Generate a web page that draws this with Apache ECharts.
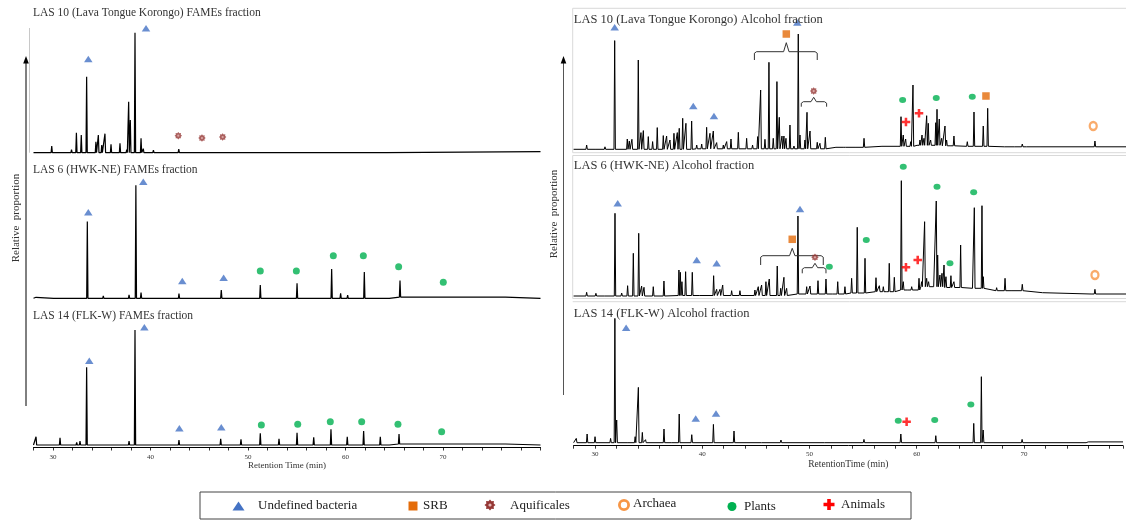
<!DOCTYPE html>
<html><head><meta charset="utf-8">
<script src="https://cdn.jsdelivr.net/npm/echarts@6/dist/echarts.min.js"></script>
<style>html,body{margin:0;padding:0;background:#fff}#c{width:1126px;height:520px}</style>
</head><body><div id="c"></div>
<script>
// ---------------- DATA (retention time in min, relative height) ----------------
// FAMEs fractions (left column)
const famesLAS10 = [[29.87,6.7],[30.8,2],[31.9,3],[32.4,20],[32.9,17.7],[33.45,76],[34.4,11],[34.65,17.7],[35.0,7.7],[35.33,19],[35.95,8.3],[36.87,9.3],[37.56,3],[37.76,51],[37.93,32.7],[38.41,120],[39.03,14.3],[39.26,4],[40.3,2.5],[42.3,2],[42.9,3.5],[44.9,1.5],[46.95,1.5],[47.3,1.5],[49.0,1.5],[51.05,1.5]];
const baseLAS10F = [[28,0],[64.2,0],[64.4,1],[80,1]];
const famesLAS6 = [[28.26,1],[30.13,1.3],[32.5,2],[33.52,76.7],[35.16,2.5],[35.95,1.5],[37.8,3.5],[38.5,113],[39.03,5.7],[42.92,4.7],[47.26,8.3],[49.28,1.5],[51.26,13.3],[53.18,1.5],[55.03,15],[56.74,2],[58.58,29.3],[59.5,5],[60.22,3.3],[61.93,26.3],[63.64,2],[65.59,17.7],[67.74,1],[70.27,1.5]];
const baseLAS6F = [[28,0],[64.5,0],[64.7,1.2],[76.4,1.2],[76.6,0],[80,0]];
const famesLAS14 = [[28.26,8.3],[30.72,7.3],[32.43,2.5],[32.77,4],[33.45,77.7],[35.26,1.5],[35.95,2],[37.8,4],[38.41,115],[40.63,1],[42.92,5],[45.08,2],[47.2,6.3],[49.28,5.7],[51.26,11.7],[53.18,6.3],[55.03,12.3],[56.74,7.7],[58.51,15.7],[60.18,8.3],[61.86,14],[63.57,8.3],[65.49,11],[67.71,1],[70.2,1.5]];
const baseLAS14F = [[28,0],[64.5,0],[64.7,1],[76.4,1],[76.6,0],[80,0]];

// Alcohol fractions (right column)
const alcLAS10 = [[29.21,4.3],[30.14,2],[30.91,2.5],[31.81,108.7],[32.98,10.3],[33.17,8.3],[33.41,10],[34.0,89.3],[34.25,16.7],[34.47,18.7],[34.93,12.7],[35.33,7.7],[35.76,21.7],[36.32,13.7],[36.63,13.3],[36.94,9.3],[37.31,16],[37.62,16.7],[37.8,21],[38.12,31],[38.42,26],[38.95,28.3],[39.42,4.3],[39.88,5.3],[40.34,22],[40.65,16],[40.96,18.3],[41.27,6.7],[41.89,4.3],[42.2,7.7],[42.6,10.3],[43.28,17],[44.05,11],[44.6,4.3],[45.07,12.7],[45.35,59.3],[45.75,10],[46.12,87],[46.52,11],[46.86,67.7],[47.08,32],[47.33,13.3],[47.51,13.3],[47.7,11],[48.07,24.3],[48.44,3.3],[48.84,115.3],[49.0,14.3],[49.46,9.3],[49.65,37],[49.93,18.3],[50.6,7],[50.85,6],[51.35,12],[52.4,1.5],[53.27,4],[54.26,4],[54.94,11],[56.67,5],[58.37,32.6],[58.58,14.3],[58.8,10.3],[59.27,7.6],[59.48,64.3],[59.92,6],[60.13,9.3],[60.32,14.3],[60.5,11],[60.75,33.6],[60.9,26],[61.12,9.3],[61.59,26.6],[61.71,40],[61.92,30.3],[62.14,11],[62.45,23.3],[62.6,9.3],[63.28,13.3],[64.52,7.6],[65.14,37.3],[66.0,23.3],[66.41,41],[68.02,3.6],[68.94,3.3],[69.62,5.3],[71.42,3.3],[76.36,8.3]];
const baseLAS10A = [[28,0],[50,0.5],[53,2],[58,3],[61,4],[63,3.5],[66,3],[70,2.5],[79.24,2.5]];
const alcLAS6 = [[29.21,3.7],[30.07,2.7],[30.91,2],[31.84,82.7],[32.46,3],[33.01,10.3],[33.54,42.7],[34.04,62.7],[34.31,10],[34.53,8.7],[35.39,9.3],[36.38,15],[37.77,26],[37.9,23.7],[38.05,14.3],[38.39,24.3],[39.01,23.7],[39.72,2],[40.99,20.3],[41.27,6.7],[41.58,6.7],[41.83,11],[42.66,5.3],[43.43,5.3],[44.82,6],[45.13,9.3],[45.44,11],[45.84,14.3],[46.15,17],[46.89,30],[47.21,7.7],[47.51,18.7],[47.76,7.7],[48.81,80],[49.62,9.3],[49.93,10],[50.67,15.3],[51.41,17],[52.5,14.3],[53.17,9.3],[53.79,17.7],[54.31,68.7],[55.03,37.7],[56.05,18.3],[56.36,10.3],[56.73,9.3],[57.28,32.7],[57.75,18.7],[58.4,115.3],[58.58,14.3],[59.36,9.3],[60.04,17.7],[60.28,14.3],[60.56,74.3],[60.75,17.7],[60.93,14.3],[61.64,95],[61.77,41],[61.98,21],[62.17,22.7],[62.36,31],[62.54,19.3],[63.0,20.3],[63.28,14.3],[63.9,51],[65.17,88.3],[65.88,90.3],[66.0,19.3],[67.24,8.3],[68.02,17.7],[68.64,6],[69.62,11.7],[76.36,6.7]];
const baseLAS6A = [[28,0],[45,0.5],[52,2],[55,3],[57,4.3],[59,6],[61.4,9.3],[63,8.5],[65,7.7],[68,5.3],[71.5,3.3],[76,2],[79.24,2]];
const alcLAS14 = [[28.25,4.3],[29.26,8.7],[30.0,6],[31.45,4.3],[31.85,124.3],[32.02,22.7],[33.13,2],[33.74,6],[34.04,55.3],[34.41,10.3],[34.71,3],[36.43,13.7],[37.17,2],[37.85,28.7],[39.02,8],[41.04,18.3],[42.96,11.7],[45.59,1.5],[47.34,2.7],[51.48,1],[55.08,3.3],[58.52,8.7],[61.78,7],[65.32,19.3],[66.03,66],[66.2,12.7],[69.83,3.3]];
const baseLAS14A = [[28,0],[75.8,0],[76,0.8],[79.24,0.8]];

// biomarker annotations [retention time, height]
const bacL1 = [[33.62,93.7],[39.54,124.4]];
const aqL1 = [[42.85,17],[45.28,14.7],[47.4,15.7]];
const bacL2 = [[33.62,86],[39.26,116.6],[43.26,17.3],[47.5,20.6]];
const plantL2 = [[51.26,27.3],[54.96,27.3],[58.75,42.6],[61.83,42.6],[65.45,31.6],[70.03,16]];
const bacL3 = [[33.72,84.3],[39.37,117.7],[42.96,16.7],[47.26,17.7]];
const plantL3 = [[51.37,20],[55.1,20.7],[58.44,23.3],[61.66,23.3],[65.38,20.7],[69.86,13.3]];

const bacR1 = [[31.81,122],[39.1,43.3],[41.02,33.3],[48.75,126.7]];
const srbR1 = [[47.73,115.3],[66.25,53.3]];
const aqR1 = [[50.27,58.3]];
const plantR1 = [[58.52,49.3],[61.64,51.3],[64.98,52.6]];
const animalR1 = [[58.83,27.3],[60.04,36]];
const archR1 = [[76.2,23.3]];
// bracket: [start, end, centre, line height, end height, tip height]
const srbBracketR1 = [44.77,50.6,47.73,97.6,89.3,106.6];
const aqBracketR1 = [49.12,51.47,50.27,47.6,42.6,52];

const bacR2 = [[32.09,92.7],[39.42,36],[41.27,32.7],[49.0,87]];
const srbR2 = [[48.28,56.7]];
const aqR2 = [[50.39,38.7]];
const plantR2 = [[51.72,29.3],[55.15,56],[58.58,129.3],[61.71,109.3],[62.91,32.7],[65.11,103.7]];
const animalR2 = [[58.83,28.7],[59.92,36]];
const archR2 = [[76.36,21]];
const srbBracketR2 = [45.35,51.16,48.28,40.3,31,47.7];
const aqBracketR2 = [49.21,51.41,50.39,28.3,22.7,32.7];

const bacR3 = [[32.9,115],[39.39,24.3],[41.28,29.3]];
const plantR3 = [[58.28,22],[61.68,22.7],[65.05,38.3]];
const animalR3 = [[59.06,21]];

const titles = ['LAS 10 (Lava Tongue Korongo) FAMEs fraction','LAS 6 (HWK-NE) FAMEs fraction','LAS 14 (FLK-W) FAMEs fraction',
  'LAS 10 (Lava Tongue Korongo) Alcohol fraction','LAS 6 (HWK-NE) Alcohol fraction','LAS 14 (FLK-W) Alcohol fraction'];
const tickLabels = [30,40,50,60,70];
const legendNames = ['Undefined bacteria','SRB','Aquificales','Archaea','Plants','Animals'];

// ---------------- BUILD ----------------
function nearestLevel(base, t){
  let best = base[0];
  base.forEach(p => { if (Math.abs(p[0]-t) < Math.abs(best[0]-t)) best = p; });
  return best[1];
}
function buildTrace(peaks, base, hw){
  const pts = base.map(p => [p[0], p[1]]);
  peaks.forEach(([t,h]) => { const b = nearestLevel(base,t); pts.push([t-hw,b],[t,h],[t+hw,b]); });
  pts.sort((a,b)=>a[0]-b[0]);
  return pts;
}
function buildBracket(b){
  const [s,e,c,hl,he,ht] = b;
  return [[s,he],[s,hl-1.5],[s+0.2,hl],[c-0.25,hl],[c,ht],[c+0.25,hl],[e-0.2,hl],[e,hl-1.5],[e,he]];
}
function gearPath(n, ro, ri){
  let d='';
  for(let i=0;i<2*n;i++){ const r=i%2?ri:ro; const a=Math.PI*i/n-Math.PI/2;
    d+=(i?'L':'M')+(10+r*10*Math.cos(a)).toFixed(2)+','+(10+r*10*Math.sin(a)).toFixed(2); }
  return 'path://'+d+'Z';
}
function gearPoints(cx,cy,R,n,ri){
  const pts=[]; for(let i=0;i<2*n;i++){ const r=(i%2?ri:1)*R; const a=Math.PI*i/n-Math.PI/2; pts.push([cx+r*Math.cos(a), cy+r*Math.sin(a)]); } return pts;
}

const FONT = 'Liberation Serif';
const C = {bac:'#4472C4', srb:'#E46C0A', aq:'#953735', arch:'#F79646', plant:'#00B050', animal:'#FF0000'};
const GEAR = gearPath(8,1,0.72);
const CROSS = 'path://M7,0H13V7H20V13H13V20H7V13H0V7H7Z';

const grids = [
  {left:33.5, width:507, top:24.7, height:128},
  {left:33.5, width:507, top:170.3, height:128},
  {left:33.5, width:507, top:317, height:130.5},
  {left:573.6, right:0, top:20.3, height:129},
  {left:573.6, right:0, top:166, height:130},
  {left:573.6, right:0, top:313, height:132.7}
];
const yRanges = [[0,128],[0,128],[-2.5,128],[0,129],[0,130],[-3,129.7]];

const xAxes = grids.map((g,i)=>{
  const right = i>=3;
  const bottom = (i===2||i===5);
  return {
    gridIndex:i, type:'value', min:28, max: right?79.24:80, interval:2,
    show: bottom,
    axisLine:{show:true, onZero:false, lineStyle:{color:'#000', width:1}},
    axisTick:{show:true, length:3, inside:false, lineStyle:{color:'#000', width:0.8}},
    axisLabel:{fontSize:7, color:'#333', fontFamily:FONT, margin: right?5:6,
      formatter: v => tickLabels.indexOf(v) >= 0 ? String(v) : ''},
    splitLine:{show:false},
    name: bottom ? (right?'RetentionTime (min)':'Retention Time (min)') : '',
    nameLocation:'middle', nameGap: right?14:13,
    nameTextStyle:{fontSize: right?9.5:9, color:'#333', fontFamily:FONT}
  };
});
const yAxes = grids.map((g,i)=>({gridIndex:i, type:'value', min:yRanges[i][0], max:yRanges[i][1], show:false, splitLine:{show:false}}));

const series = [];
function trace(i, peaks, base, w){ series.push({type:'line', xAxisIndex:i, yAxisIndex:i, data:buildTrace(peaks, base, 0.065), symbol:'none', lineStyle:{color:'#000', width:w, join:'bevel'}, animation:false, clip:false, silent:true, z:2}); }
function marks(i, data, sym, size, style){ series.push({type:'scatter', xAxisIndex:i, yAxisIndex:i, data:data, symbol:sym, symbolSize:size, itemStyle:style, animation:false, clip:false, silent:true, z:5}); }
function bracket(i, b){ series.push({type:'line', xAxisIndex:i, yAxisIndex:i, data:buildBracket(b), symbol:'none', lineStyle:{color:'#333', width:1}, animation:false, clip:false, silent:true, z:3}); }
function aqMarks(i, data, size){ marks(i, data, GEAR, size, {color:C.aq}); marks(i, data, 'circle', size*0.3, {color:'#E6B9B8'}); }
function ringMarks(i, data){ marks(i, data, 'circle', [7,8], {color:'#fff', borderColor:C.arch, borderWidth:2.4}); }

trace(0, famesLAS10, baseLAS10F, 1.2);
trace(1, famesLAS6, baseLAS6F, 1.2);
trace(2, famesLAS14, baseLAS14F, 1.2);
trace(3, alcLAS10, baseLAS10A, 1);
trace(4, alcLAS6, baseLAS6A, 1);
trace(5, alcLAS14, baseLAS14A, 1);

bracket(3, srbBracketR1); bracket(3, aqBracketR1);
bracket(4, srbBracketR2); bracket(4, aqBracketR2);

const TRI = [8.5,6.5];
marks(0, bacL1, 'triangle', TRI, {color:C.bac}); aqMarks(0, aqL1, 7.5);
marks(1, bacL2, 'triangle', TRI, {color:C.bac}); marks(1, plantL2, 'circle', 7, {color:C.plant});
marks(2, bacL3, 'triangle', TRI, {color:C.bac}); marks(2, plantL3, 'circle', 7, {color:C.plant});

marks(3, bacR1, 'triangle', TRI, {color:C.bac}); marks(3, srbR1, 'rect', 7.5, {color:C.srb}); aqMarks(3, aqR1, 7.5);
marks(3, plantR1, 'circle', [7,6], {color:C.plant}); marks(3, animalR1, CROSS, 8.5, {color:C.animal}); ringMarks(3, archR1);
marks(4, bacR2, 'triangle', TRI, {color:C.bac}); marks(4, srbR2, 'rect', 7.5, {color:C.srb}); aqMarks(4, aqR2, 7.5);
marks(4, plantR2, 'circle', [7,6], {color:C.plant}); marks(4, animalR2, CROSS, 8.5, {color:C.animal}); ringMarks(4, archR2);
marks(5, bacR3, 'triangle', TRI, {color:C.bac}); marks(5, plantR3, 'circle', [7,6], {color:C.plant}); marks(5, animalR3, CROSS, 8.5, {color:C.animal});

// ---------------- GRAPHIC (frames, titles, legend) ----------------
const g = [];
// right column panel frames
[[8.3,144.4],[155.5,143]].forEach(([y,h])=>g.push({type:'rect', shape:{x:572.7,y:y,width:560,height:h}, style:{fill:'none', stroke:'#d9d9d9', lineWidth:1}, silent:true, z:-1}));
g.push({type:'line', shape:{x1:572.7,y1:301.7,x2:1126,y2:301.7}, style:{stroke:'#d9d9d9', lineWidth:1}, silent:true, z:-1});
// left top faint axis
g.push({type:'line', shape:{x1:29.5,y1:28,x2:29.5,y2:152.7}, style:{stroke:'#c8c8c8', lineWidth:1}, silent:true});
// arrows
g.push({type:'line', shape:{x1:26,y1:406,x2:26,y2:62}, style:{stroke:'#000', lineWidth:1}, silent:true});
g.push({type:'polygon', shape:{points:[[26,56],[23.2,63.5],[28.8,63.5]]}, style:{fill:'#000'}, silent:true});
g.push({type:'line', shape:{x1:563.5,y1:395,x2:563.5,y2:62}, style:{stroke:'#555', lineWidth:1}, silent:true});
g.push({type:'polygon', shape:{points:[[563.5,56],[560.7,63.5],[566.3,63.5]]}, style:{fill:'#000'}, silent:true});
// y titles
g.push({type:'text', x:16, y:218, rotation:Math.PI/2, style:{text:'Relative  proportion', font:'11px "Liberation Serif"', fill:'#333', textAlign:'center', textVerticalAlign:'middle'}, silent:true});
g.push({type:'text', x:554, y:214, rotation:Math.PI/2, style:{text:'Relative  proportion', font:'11px "Liberation Serif"', fill:'#333', textAlign:'center', textVerticalAlign:'middle'}, silent:true});
// panel titles
const titlePos = [[33,13.3,11.5],[33,170,11.5],[33,316,11.5],[573.8,20,12.5],[573.8,166,12.5],[573.8,313.3,12.5]];
titles.forEach((t,i)=>g.push({type:'text', x:titlePos[i][0], y:titlePos[i][1], style:{text:t, font:titlePos[i][2]+'px "Liberation Serif"', fill:'#333', textAlign:'left', textVerticalAlign:'middle'}, silent:true, z:10}));
// legend
const LY = 506;
g.push({type:'rect', shape:{x:200,y:492,width:711,height:27}, style:{fill:'#fff', stroke:'#444', lineWidth:1}, silent:true});
g.push({type:'polygon', shape:{points:[[232.5,LY+4.5],[244.5,LY+4.5],[238.5,LY-4.5]]}, style:{fill:C.bac}, silent:true, z:5});
g.push({type:'rect', shape:{x:408.5,y:LY-4.5,width:9,height:9}, style:{fill:C.srb}, silent:true, z:5});
g.push({type:'polygon', shape:{points:gearPoints(490,LY-1,5.5,8,0.72)}, style:{fill:C.aq}, silent:true, z:5});
g.push({type:'circle', shape:{cx:490,cy:LY-1,r:1.6}, style:{fill:'#E6B9B8'}, silent:true, z:6});
g.push({type:'circle', shape:{cx:624,cy:LY-1,r:4.6}, style:{fill:'#fff', stroke:C.arch, lineWidth:2.8}, silent:true, z:5});
g.push({type:'circle', shape:{cx:732,cy:LY+0.5,r:4.5}, style:{fill:C.plant}, silent:true, z:5});
(function(){ const cx=829, cy=LY-1.5, a=5.5, t=1.8;
  g.push({type:'polygon', shape:{points:[[cx-t,cy-a],[cx+t,cy-a],[cx+t,cy-t],[cx+a,cy-t],[cx+a,cy+t],[cx+t,cy+t],[cx+t,cy+a],[cx-t,cy+a],[cx-t,cy+t],[cx-a,cy+t],[cx-a,cy-t],[cx-t,cy-t]]}, style:{fill:C.animal}, silent:true, z:5}); })();
const legendTextPos = [[258,LY],[423,LY],[510,LY],[633,LY-2],[744,LY+1],[841,LY-1.5]];
legendNames.forEach((n,i)=>g.push({type:'text', x:legendTextPos[i][0], y:legendTextPos[i][1], style:{text:n, font:'13px "Liberation Serif"', fill:'#222', textAlign:'left', textVerticalAlign:'middle'}, silent:true, z:5}));

const chart = echarts.init(document.getElementById('c'), null, {renderer:'canvas'});
chart.setOption({
  animation:false,
  backgroundColor:'#fff',
  grid: grids,
  xAxis: xAxes,
  yAxis: yAxes,
  series: series,
  graphic: g
});
</script></body></html>
